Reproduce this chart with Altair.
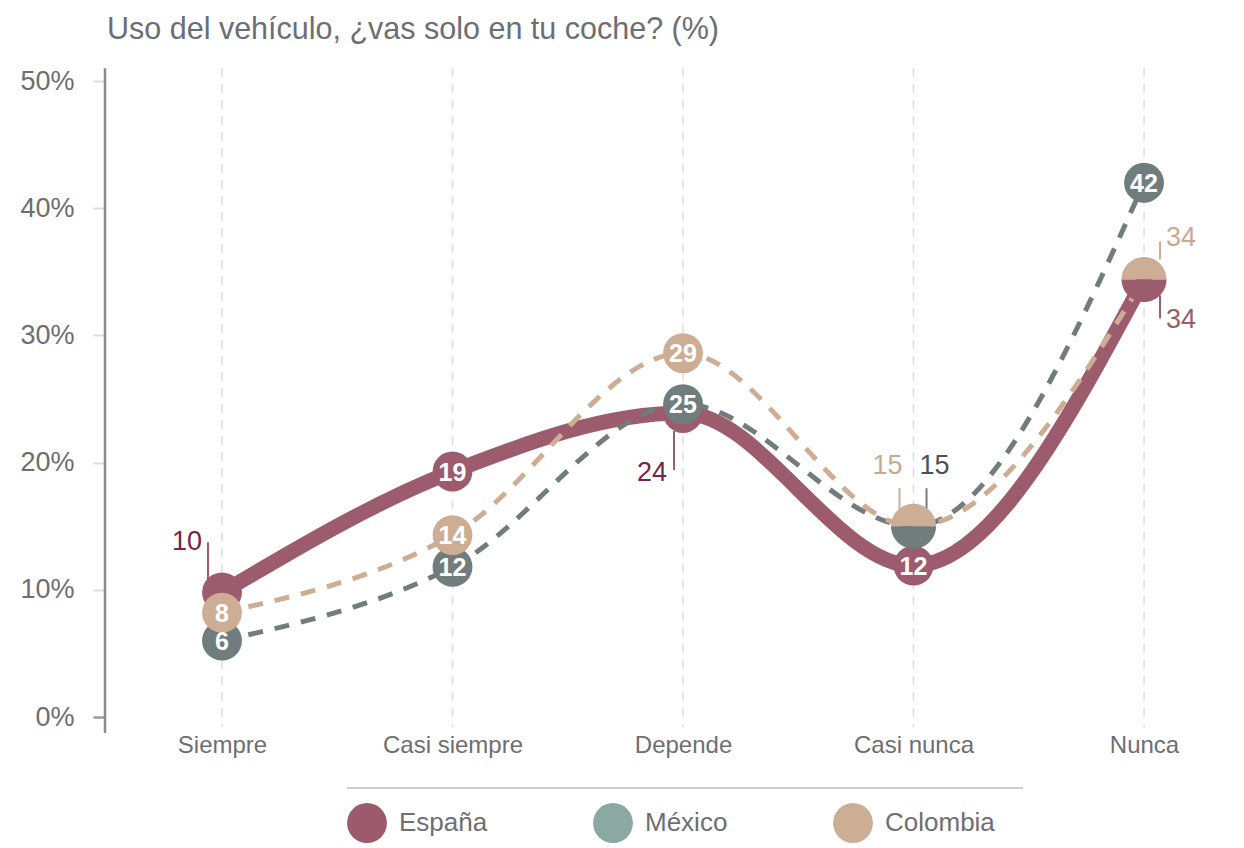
import json
import altair as alt
import pandas as pd

# ---------------- data ----------------
categories = ["Siempre", "Casi siempre", "Depende", "Casi nunca", "Nunca"]
countries = ["España", "México", "Colombia"]
espana = [9.8, 19.3, 23.9, 11.9, 34.4]
mexico = [6.0, 11.8, 24.6, 15.0, 42.0]
colombia = [8.2, 14.3, 28.6, 15.0, 34.4]
espana_lbl = ["10", "19", "24", "12", "34"]
mexico_lbl = ["6", "12", "25", "15", "42"]
colombia_lbl = ["8", "14", "29", "15", "34"]
y_ticks = [0, 10, 20, 30, 40, 50]
title_text = "Uso del vehículo, ¿vas solo en tu coche? (%)"

# points whose value label sits outside the marker (with a leader line)
outside = [("España", 0), ("España", 2), ("España", 4), ("México", 3), ("Colombia", 3), ("Colombia", 4)]
# coinciding points drawn as half circles
halves = [("Colombia", 3, "top"), ("México", 3, "bottom"), ("Colombia", 4, "top"), ("España", 4, "bottom")]

# ---------------- styles ----------------
FONT = "Liberation Sans"
line_col = {"España": "#9D5B6E", "México": "#717D7C", "Colombia": "#CDAE94"}
legend_col = ["#9C5A6D", "#8BA8A2", "#CCAE95"]
TXT = "#6E6E73"

# annotation styles: country, idx, align, dx, dy, rule_dx, rule_y1, rule_y2, text colour
ann_style = [
    ("España", 0, "right", -20, -50, -14, -12, -50, "#7B2249"),
    ("España", 2, "right", -16, 60, -9, 18, 57, "#7B2249"),
    ("Colombia", 3, "right", -11, -60, -14, -15, -38, "#C9A98F"),
    ("México", 3, "left", 6, -60, 13, -15, -38, "#4D5058"),
    ("Colombia", 4, "left", 22, -41, 16, -20, -38, "#C9A98F"),
    ("España", 4, "left", 22, 41, 16, 16, 39, "#9D5B6E"),
]

rows = []
for c, vals, lbls in [("España", espana, espana_lbl), ("México", mexico, mexico_lbl), ("Colombia", colombia, colombia_lbl)]:
    for i, (v, l) in enumerate(zip(vals, lbls)):
        rows.append({"idx": i, "cat": categories[i], "country": c, "value": v, "label": l})
df = pd.DataFrame(rows)
half_keys = {(c, i) for c, i, _ in halves}
df["inner"] = [(c, i) not in set(outside) for c, i in zip(df.country, df.idx)]
df["full"] = [(c, i) not in half_keys for c, i in zip(df.country, df.idx)]

cat_df = pd.DataFrame({"idx": list(range(len(categories))), "cat": categories})

label_expr = json.dumps(categories) + "[datum.value]"

x_enc = alt.X(
    "idx:Q",
    scale=alt.Scale(domain=[-0.5076, 4.399], nice=False, zero=False),
    axis=alt.Axis(values=list(range(len(categories))), labelExpr=label_expr, title=None,
                  domain=False, ticks=False, grid=False, labelFontSize=24, labelColor=TXT,
                  labelPadding=16, labelFont=FONT),
)
y_enc = alt.Y(
    "value:Q",
    scale=alt.Scale(domain=[0, 50], nice=False, zero=True),
    axis=alt.Axis(values=y_ticks, labelExpr="datum.value + '%'", title=None, domain=False,
                  tickSize=12,
                  tickColor=alt.condition("datum.value == 0", alt.value("#999999"), alt.value("#DDDDDD")),
                  tickWidth=alt.condition("datum.value == 0", alt.value(2.5), alt.value(2)),
                  gridColor=alt.condition("datum.value == 0", alt.value("#999999"), alt.value("#DDDDDD")),
                  gridWidth=alt.condition("datum.value == 0", alt.value(2.5), alt.value(2)),
                  labelFontSize=27, labelColor="#6E6E6E", labelPadding=19, labelFont=FONT),
)

layers = []

# title
layers.append(
    alt.Chart(pd.DataFrame({"t": [title_text]})).mark_text(
        align="left", baseline="alphabetic", fontSize=30.5, color="#6C6E76", font=FONT
    ).encode(x=alt.value(2), y=alt.value(-42), text="t:N")
)

# vertical dashed gridlines
layers.append(
    alt.Chart(cat_df).mark_rule(color="#DDDDDD", strokeWidth=1.5, strokeDash=[9, 7]).encode(
        x=x_enc, y=alt.datum(51.0), y2=alt.datum(-0.8)
    )
)
# y axis line
layers.append(
    alt.Chart(cat_df.head(1)).mark_rule(color="#8C8C8C", strokeWidth=2.5).encode(
        x=alt.value(0), y=alt.datum(51.0), y2=alt.datum(-1.26)
    )
)

# lines
layers.append(
    alt.Chart(df[df.country == "España"]).mark_line(
        interpolate="monotone", strokeWidth=15, color=line_col["España"], strokeCap="round"
    ).encode(x=x_enc, y=y_enc)
)
for c in ["México", "Colombia"]:
    layers.append(
        alt.Chart(df[df.country == c]).mark_line(
            interpolate="monotone", strokeWidth=5, color=line_col[c], strokeDash=[15, 12]
        ).encode(x=x_enc, y=y_enc)
    )

# leader lines for outside labels
for c, i, align, dx, dy, rdx, ry1, ry2, tcol in ann_style:
    sub = df[(df.country == c) & (df.idx == i)]
    layers.append(
        alt.Chart(sub).mark_rule(color=line_col[c], strokeWidth=2, xOffset=rdx, yOffset=ry1, y2Offset=ry2).encode(
            x=x_enc, y=y_enc, y2=alt.Y2("value:Q")
        )
    )

# full circles
for c in countries:
    sub = df[(df.country == c) & (df.full)]
    layers.append(
        alt.Chart(sub).mark_circle(size=1590, opacity=1, color=line_col[c]).encode(x=x_enc, y=y_enc)
    )

# half circles
TOP = "M-1,0A1,1,0,0,1,1,0Z"
BOTTOM = "M-1,0A1,1,0,0,0,1,0Z"
for c, i, part in halves:
    sub = df[(df.country == c) & (df.idx == i)]
    layers.append(
        alt.Chart(sub).mark_point(
            shape=TOP if part == "top" else BOTTOM, size=2025, filled=True, opacity=1,
            color=line_col[c], strokeWidth=0
        ).encode(x=x_enc, y=y_enc)
    )

# inner labels
layers.append(
    alt.Chart(df[df.inner]).mark_text(
        color="white", fontSize=25, fontWeight="bold", baseline="middle", dy=1, font=FONT
    ).encode(x=x_enc, y=y_enc, text="label:N")
)

# outside labels
for c, i, align, dx, dy, rdx, ry1, ry2, tcol in ann_style:
    sub = df[(df.country == c) & (df.idx == i)]
    layers.append(
        alt.Chart(sub).mark_text(
            align=align, baseline="middle", dx=dx, dy=dy, fontSize=27, color=tcol, font=FONT
        ).encode(x=x_enc, y=y_enc, text="label:N")
    )

# legend separator line
layers.append(
    alt.Chart(cat_df.head(1)).mark_rule(color="#BDBDBD", strokeWidth=1.5).encode(
        x=alt.value(242), x2=alt.value(918), y=alt.value(707)
    )
)

# legend carrier
leg_df = pd.DataFrame({"country": countries})
layers.append(
    alt.Chart(leg_df).mark_circle(opacity=0, size=10).encode(
        x=alt.value(0), y=alt.value(0),
        fill=alt.Fill(
            "country:N",
            scale=alt.Scale(domain=countries, range=legend_col),
            legend=alt.Legend(
                orient="none", legendX=242, legendY=722, direction="horizontal", title=None,
                symbolType="circle", symbolSize=1590, symbolOpacity=1, symbolStrokeWidth=0,
                labelFontSize=26, labelColor=TXT, labelFont=FONT, labelOffset=12,
                columnPadding=105, padding=0, columns=3,
            ),
        ),
    )
)

chart = alt.layer(*layers).properties(
    width=1131,
    height=636,
    autosize=alt.AutoSizeParams(type="none"),
    padding={"left": 97, "top": 73, "right": 0, "bottom": 131},
).configure(font=FONT).configure_view(stroke=None)

chart.save("out.html", embed_options={"renderer": "svg", "actions": False})
